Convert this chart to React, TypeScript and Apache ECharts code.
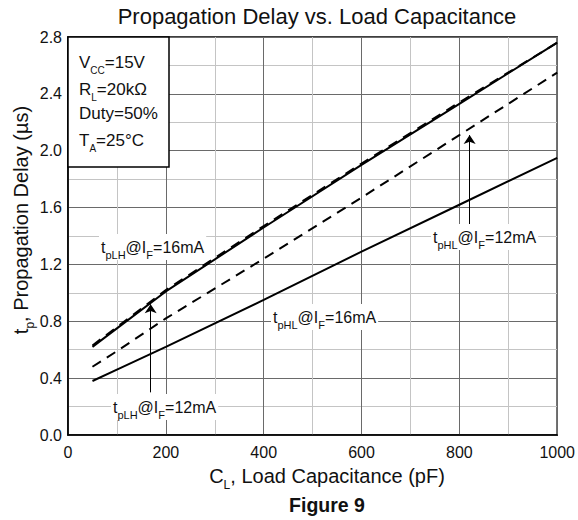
import React, { useEffect, useRef } from "react";
import * as echarts from "echarts";

// ---- data ----
const capacitance = [50, 100, 200, 400, 600, 800, 1000]; // pF
const tpLH16 = [0.62, 0.75, 1.01, 1.46, 1.9, 2.33, 2.76]; // µs
const tpLH12 = [0.63, 0.76, 1.02, 1.47, 1.91, 2.34, 2.76];
const tpHL12 = [0.48, 0.59, 0.82, 1.24, 1.67, 2.11, 2.55];
const tpHL16 = [0.38, 0.46, 0.62, 0.95, 1.29, 1.62, 1.95];

const xMin = 0;
const xMax = 1000;
const xStep = 200;
const yMin = 0;
const yMax = 2.8;
const yStep = 0.4;

// annotation arrows: [x, yFrom, yTo]
const arrowLH12 = [169, 0.3, 0.92];
const arrowHL12 = [821, 1.47, 2.11];

const FONT = "'Liberation Sans', Arial, Helvetica, sans-serif";
const INK = "#111";

const pairs = (ys: number[]) => capacitance.map((c, i) => [c, ys[i]]);

function subText(
  x: number,
  y: number,
  text: string,
  main: number,
  sub: number,
  lh: number,
  extra: any = {}
) {
  const { bg, align, ...rest } = extra;
  return {
    type: "text",
    x,
    y,
    z: 100,
    ...rest,
    style: {
      text,
      align: align || "left",
      verticalAlign: "middle",
      backgroundColor: bg,
      padding: bg ? [0, 2] : 0,
      rich: {
        m: { fontSize: main, lineHeight: lh, fontFamily: FONT, fill: INK, color: INK },
        s: {
          fontSize: sub,
          lineHeight: sub,
          verticalAlign: "bottom",
          fontFamily: FONT,
          fill: INK,
          color: INK,
        },
      },
    },
  };
}

export default function App() {
  const ref = useRef<HTMLDivElement>(null);

  useEffect(() => {
    document.body.style.margin = "0";
    if (!ref.current) return;
    const chart = echarts.init(ref.current, null, { renderer: "svg" });

    const lineSeries = (name: string, ys: number[], dashed: boolean) => ({
      name,
      type: "line",
      data: pairs(ys),
      showSymbol: false,
      symbol: "none",
      lineStyle: {
        color: "#000",
        width: 2,
        type: dashed ? [10, 7] : "solid",
      },
      z: 5,
    });

    const option: any = {
      animation: false,
      backgroundColor: "#fff",
      textStyle: { fontFamily: FONT },
      grid: {
        left: 68,
        top: 37,
        width: 492,
        height: 398,
        show: true,
        borderColor: "#000",
        borderWidth: 1.5,
        backgroundColor: "transparent",
      },
      xAxis: {
        type: "value",
        min: xMin,
        max: xMax,
        interval: xStep,
        axisLine: { show: true, lineStyle: { color: "#000", width: 1.5 } },
        axisTick: { show: false },
        axisLabel: {
          fontSize: 16,
          color: INK,
          margin: 9,
          fontFamily: FONT,
          formatter: (v: number) => String(v),
        },
        splitLine: { show: true, lineStyle: { color: "#6a6a6a", width: 1 } },
        minorTick: { show: false, splitNumber: 2 },
        minorSplitLine: { show: true, lineStyle: { color: "#c4c4c4", width: 1 } },
      },
      yAxis: {
        type: "value",
        min: yMin,
        max: yMax,
        interval: yStep,
        axisLine: { show: true, lineStyle: { color: "#000", width: 1.5 } },
        axisTick: { show: false },
        axisLabel: {
          fontSize: 16,
          color: INK,
          margin: 6,
          fontFamily: FONT,
          formatter: (v: number) => v.toFixed(1),
        },
        splitLine: { show: true, lineStyle: { color: "#6a6a6a", width: 1 } },
        minorTick: { show: false, splitNumber: 2 },
        minorSplitLine: { show: true, lineStyle: { color: "#c4c4c4", width: 1 } },
      },
      series: [
        lineSeries("tpLH@IF=16mA", tpLH16, false),
        lineSeries("tpLH@IF=12mA", tpLH12, true),
        lineSeries("tpHL@IF=12mA", tpHL12, true),
        {
          ...lineSeries("tpHL@IF=16mA", tpHL16, false),
          markLine: {
            silent: true,
            symbol: ["none", "arrow"],
            symbolSize: 9,
            label: { show: false },
            lineStyle: { color: "#000", width: 1, type: "solid" },
            itemStyle: { color: "#000" },
            data: [
              [
                { coord: [arrowLH12[0], arrowLH12[1]] },
                { coord: [arrowLH12[0], arrowLH12[2]] },
              ],
              [
                { coord: [arrowHL12[0], arrowHL12[1]] },
                { coord: [arrowHL12[0], arrowHL12[2]] },
              ],
            ],
          },
        },
      ],
      graphic: [
        {
          type: "text",
          x: 317,
          y: 16,
          z: 100,
          style: {
            text: "Propagation Delay vs. Load Capacitance",
            fontSize: 22,
            fontFamily: FONT,
            fill: INK,
            align: "center",
            verticalAlign: "middle",
          },
        },
        {
          type: "rect",
          z: 90,
          shape: { x: 68, y: 37, width: 101, height: 130 },
          style: { fill: "#fff", stroke: "#000", lineWidth: 1.5 },
        },
        subText(79, 62, "{m|V}{s|CC}{m|=15V}", 17, 10, 26),
        subText(79, 89, "{m|R}{s|L}{m|=20kΩ}", 17, 10, 26),
        subText(79, 113, "{m|Duty=50%}", 17, 10, 26),
        subText(79, 140, "{m|T}{s|A}{m|=25°C}", 17, 10, 26),
        subText(99, 247, "{m|t}{s|pLH}{m|@I}{s|F}{m|=16mA}", 16, 11, 26, { bg: "#fff" }),
        subText(111, 407, "{m|t}{s|pLH}{m|@I}{s|F}{m|=12mA}", 16, 11, 26, { bg: "#fff" }),
        subText(431, 237, "{m|t}{s|pHL}{m|@I}{s|F}{m|=12mA}", 16, 11, 26, { bg: "#fff" }),
        subText(271, 317, "{m|t}{s|pHL}{m|@I}{s|F}{m|=16mA}", 16, 11, 26, { bg: "#fff" }),
        subText(327, 476, "{m|C}{s|L}{m|, Load Capacitance (pF)}", 20, 12, 30, { align: "center" }),
        subText(21, 220, "{m|t}{s|p}{m|, Propagation Delay (µs)}", 20, 12, 30, {
          align: "center",
          rotation: Math.PI / 2,
        }),
        {
          type: "text",
          x: 327,
          y: 505,
          z: 100,
          style: {
            text: "Figure 9",
            fontSize: 19.5,
            fontWeight: "bold",
            fontFamily: FONT,
            fill: INK,
            align: "center",
            verticalAlign: "middle",
          },
        },
      ],
    };

    chart.setOption(option);
    return () => chart.dispose();
  }, []);

  return <div ref={ref} style={{ width: 578, height: 520 }} />;
}
